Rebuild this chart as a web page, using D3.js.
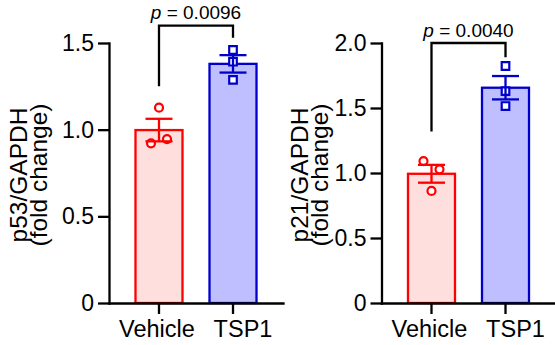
<!DOCTYPE html>
<html>
<head>
<meta charset="utf-8">
<script src="https://cdn.jsdelivr.net/npm/d3@7"></script>
<style>
  body { margin: 0; background: #fff; }
  svg { display: block; }
  text { font-family: "Liberation Sans", Arial, sans-serif; fill: #000; }
</style>
</head>
<body>
<svg id="chart" width="555" height="345"></svg>
<script>
// data (fold change, n = 3 per group)
const categories = ["Vehicle", "TSP1"];
const p53Vehicle = [1.127, 0.921, 0.945];
const p53TSP1 = [1.46, 1.392, 1.287];
const p21Vehicle = [1.092, 1.028, 0.862];
const p21TSP1 = [1.823, 1.63, 1.515];
const p53Ticks = [0, 0.5, 1.0, 1.5];
const p21Ticks = [0, 0.5, 1.0, 1.5, 2.0];
// bracket: [left leg end, top, right leg end] in axis units
const p53Bracket = [1.25, 1.60, 1.53];
const p21Bracket = [1.32, 2.0, 1.89];
const p53PValue = "0.0096";
const p21PValue = "0.0040";

const FILL = ["#ffdede", "#bfbfff"];
const STROKE = ["#ff0000", "#0000cc"];
const LABEL_DX = [-2, 10]; // category labels sit a little apart in the original
const AXIS_W = 2.3;

const svg = d3.select("#chart");

function sem(v) {
  return d3.deviation(v) / Math.sqrt(v.length);
}

// spread points that would overlap, in their original order
function jitter(vals, y, minGap, step) {
  const groups = [];
  vals.forEach((v, i) => {
    const py = y(v);
    let g = groups.find(gr => gr.some(j => Math.abs(y(vals[j]) - py) < minGap));
    if (g) g.push(i);
    else groups.push([i]);
  });
  const off = new Array(vals.length).fill(0);
  groups.forEach(gr => gr.forEach((j, k) => { off[j] = (k - (gr.length - 1) / 2) * step; }));
  return off;
}

function drawPanel(opt) {
  const g = svg.append("g");
  const y = d3.scaleLinear()
    .domain([0, opt.ticks[opt.ticks.length - 1]])
    .range([303, 43]);
  const x = d3.scaleBand()
    .domain(categories)
    .range([opt.x0, opt.x0 + 174])
    .paddingInner(0.365)
    .paddingOuter(0.358);
  const bw = x.bandwidth();

  const groups = categories.map((c, i) => ({
    cat: c, i, vals: opt.series[i],
    mean: d3.mean(opt.series[i]), sem: sem(opt.series[i])
  }));

  // bars
  g.selectAll("rect.bar").data(groups).join("rect")
    .attr("class", "bar")
    .attr("x", d => x(d.cat))
    .attr("width", bw)
    .attr("y", d => y(d.mean))
    .attr("height", d => y(0) - y(d.mean))
    .attr("fill", d => FILL[d.i])
    .attr("stroke", d => STROKE[d.i])
    .attr("stroke-width", 2.3);

  // points
  groups.forEach(d => {
    const cx = x(d.cat) + bw / 2;
    const off = jitter(d.vals, y, 11, 16);
    const pts = g.append("g").selectAll("path").data(d.vals).join("path")
      .attr("transform", (v, k) => `translate(${cx + off[k]},${y(v)})`)
      .attr("fill", "#fff")
      .attr("stroke", STROKE[d.i])
      .attr("stroke-width", 2.2);
    if (d.i === 0) pts.attr("d", d3.symbol(d3.symbolCircle, 50)());
    else pts.attr("d", "M-3.8,-3.8H3.8V3.8H-3.8Z");
  });

  // error bars (mean ± SEM)
  groups.forEach(d => {
    const cx = x(d.cat) + bw / 2;
    const eb = g.append("g")
      .attr("stroke", STROKE[d.i])
      .attr("stroke-width", 2.3)
      .attr("fill", "none");
    eb.append("line").attr("x1", cx).attr("x2", cx)
      .attr("y1", y(d.mean - d.sem)).attr("y2", y(d.mean + d.sem));
    [d.mean - d.sem, d.mean + d.sem].forEach(v => {
      eb.append("line").attr("x1", cx - 13.5).attr("x2", cx + 13.5)
        .attr("y1", y(v)).attr("y2", y(v));
    });
  });

  // axes
  const yAxis = g.append("g")
    .attr("transform", `translate(${opt.x0},0)`)
    .call(d3.axisLeft(y).tickValues(opt.ticks)
      .tickFormat(v => v === 0 ? "0" : d3.format(".1f")(v))
      .tickSize(11).tickSizeOuter(0).tickPadding(4));
  const xAxis = g.append("g")
    .attr("transform", `translate(0,${y(0)})`)
    .call(d3.axisBottom(x).tickSize(11).tickSizeOuter(0).tickPadding(6));
  [yAxis, xAxis].forEach(a => {
    a.select(".domain").attr("stroke-width", AXIS_W).attr("stroke-linecap", "square");
    a.selectAll(".tick line").attr("stroke-width", AXIS_W);
    a.selectAll(".tick text").attr("font-family", null);
  });
  yAxis.selectAll(".tick text").attr("font-size", 23);
  xAxis.selectAll(".tick text").attr("font-size", 23.5)
    .attr("dx", (c, i) => LABEL_DX[i]);

  // y label, two lines
  const lab = g.append("text")
    .attr("transform", `translate(${opt.labelX},175) rotate(-90)`)
    .attr("text-anchor", "middle")
    .attr("font-size", 24.5);
  lab.append("tspan").attr("x", 0).attr("dy", 0).text(opt.label);
  lab.append("tspan").attr("x", 0).attr("dy", 20).text("(fold change)");

  // significance bracket
  const xa = x(categories[0]) + bw / 2, xb = x(categories[1]) + bw / 2;
  const [b0, bTop, b1] = opt.bracket;
  g.append("path")
    .attr("d", `M${xa},${y(b0)}V${y(bTop)}H${xb}V${y(b1)}`)
    .attr("fill", "none")
    .attr("stroke", "#000")
    .attr("stroke-width", AXIS_W);
  const pt = g.append("text")
    .attr("x", (xa + xb) / 2)
    .attr("y", y(bTop) - 6.5)
    .attr("text-anchor", "middle")
    .attr("font-size", 19);
  pt.append("tspan").attr("font-style", "italic").text("p");
  pt.append("tspan").text(" = " + opt.p);
}

drawPanel({
  x0: 109, series: [p53Vehicle, p53TSP1], ticks: p53Ticks,
  label: "p53/GAPDH", labelX: 27, bracket: p53Bracket, p: p53PValue
});
drawPanel({
  x0: 381.5, series: [p21Vehicle, p21TSP1], ticks: p21Ticks,
  label: "p21/GAPDH", labelX: 308, bracket: p21Bracket, p: p21PValue
});
</script>
</body>
</html>
